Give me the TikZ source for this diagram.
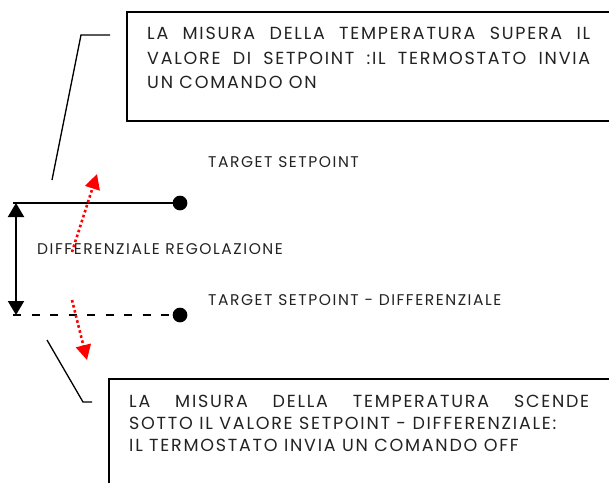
\documentclass[tikz,border=0pt]{standalone}
\usepackage{fontspec}
\setmainfont{Poppins}[LetterSpace=10]
\usepackage{xcolor}
\usetikzlibrary{arrows.meta, positioning}
\definecolor{Ink}{HTML}{222222}
\definecolor{Alarm}{HTML}{FF0000}

\begin{document}
\begin{tikzpicture}[
        x=1pt, y=-1pt,
        font=\fontsize{15.5}{17}\selectfont, text=Ink,
        msgbox/.style={draw=black, line width=1.5pt, anchor=north west, inner sep=0pt},
        msgtext/.style={anchor=north west, inner sep=0pt, align=justify},
        lvltext/.style={anchor=base west, inner sep=0pt},
        level/.style={line width=2.7pt},
        enddot/.style={circle, fill=black, minimum size=14.7pt, inner sep=0pt},
        span/.style={{Triangle[length=14pt,width=16pt]}-{Triangle[length=14pt,width=16pt]}, line width=2pt},
        move/.style={-{Triangle[length=15pt,width=15pt]}, draw=Alarm, line width=2.6pt, dash pattern=on 2.6pt off 2.6pt},
        leader/.style={line width=1.3pt}
      ]
        \useasboundingbox (0,0) rectangle (609,482);
        \clip (0,0) rectangle (609,482);
        \node[msgbox, minimum width=500pt, minimum height=109pt] (onbox) at (126,11) {};
        \node[msgtext, text width=443pt, font=\fontsize{17.5}{24.5}\selectfont] (ontext) at (147,27) {LA MISURA DELLA TEMPERATURA SUPERA IL\linebreak VALORE DI SETPOINT :IL TERMOSTATO INVIA\linebreak UN COMANDO ON};
        \node[msgbox, minimum width=520pt, minimum height=130pt] (offbox) at (108,378) {};
        \node[msgtext, text width=460pt, font=\fontsize{17.5}{22}\selectfont] (offtext) at (129,395) {LA MISURA DELLA TEMPERATURA SCENDE\linebreak SOTTO IL VALORE SETPOINT - DIFFERENZIALE:\\IL TERMOSTATO INVIA UN COMANDO OFF};
        \coordinate (hiL) at (13,203);
        \node[enddot] (hiR) at (180,203) {};
        \coordinate (loL) at (13,315);
        \node[enddot] (loR) at (180,315) {};
        \draw[level] (hiL) -- (hiR.center);
        \draw[level, dash pattern=on 8pt off 10.5pt] (loL) -- (loR.center);
        \coordinate (spanTop) at (16,203);
        \coordinate (spanBot) at (16,315);
        \draw[span] (spanTop) -- (spanBot);
        \node[lvltext] (hiLbl) at (208,167) {TARGET SETPOINT};
        \node[lvltext] (spanLbl) at (37,254) {DIFFERENZIALE REGOLAZIONE};
        \node[lvltext] (loLbl) at (208,305) {TARGET SETPOINT - DIFFERENZIALE};
        \coordinate (upFrom) at (72,252);
        \coordinate (upTo) at (97,174);
        \coordinate (dnFrom) at (72,300);
        \coordinate (dnTo) at (87,360);
        \draw[move] (upFrom) -- (upTo);
        \draw[move] (dnFrom) -- (dnTo);
        \coordinate (onTick) at (110,35);
        \coordinate (onKnee) at (81,35);
        \coordinate (onFoot) at (52,180);
        \draw[leader] (onTick) -- (onKnee) -- (onFoot);
        \coordinate (offFoot) at (47,340);
        \coordinate (offKnee) at (83,402);
        \coordinate (offTick) at (92,402);
        \draw[leader] (offFoot) -- (offKnee) -- (offTick);
      \end{tikzpicture}
\end{document}
